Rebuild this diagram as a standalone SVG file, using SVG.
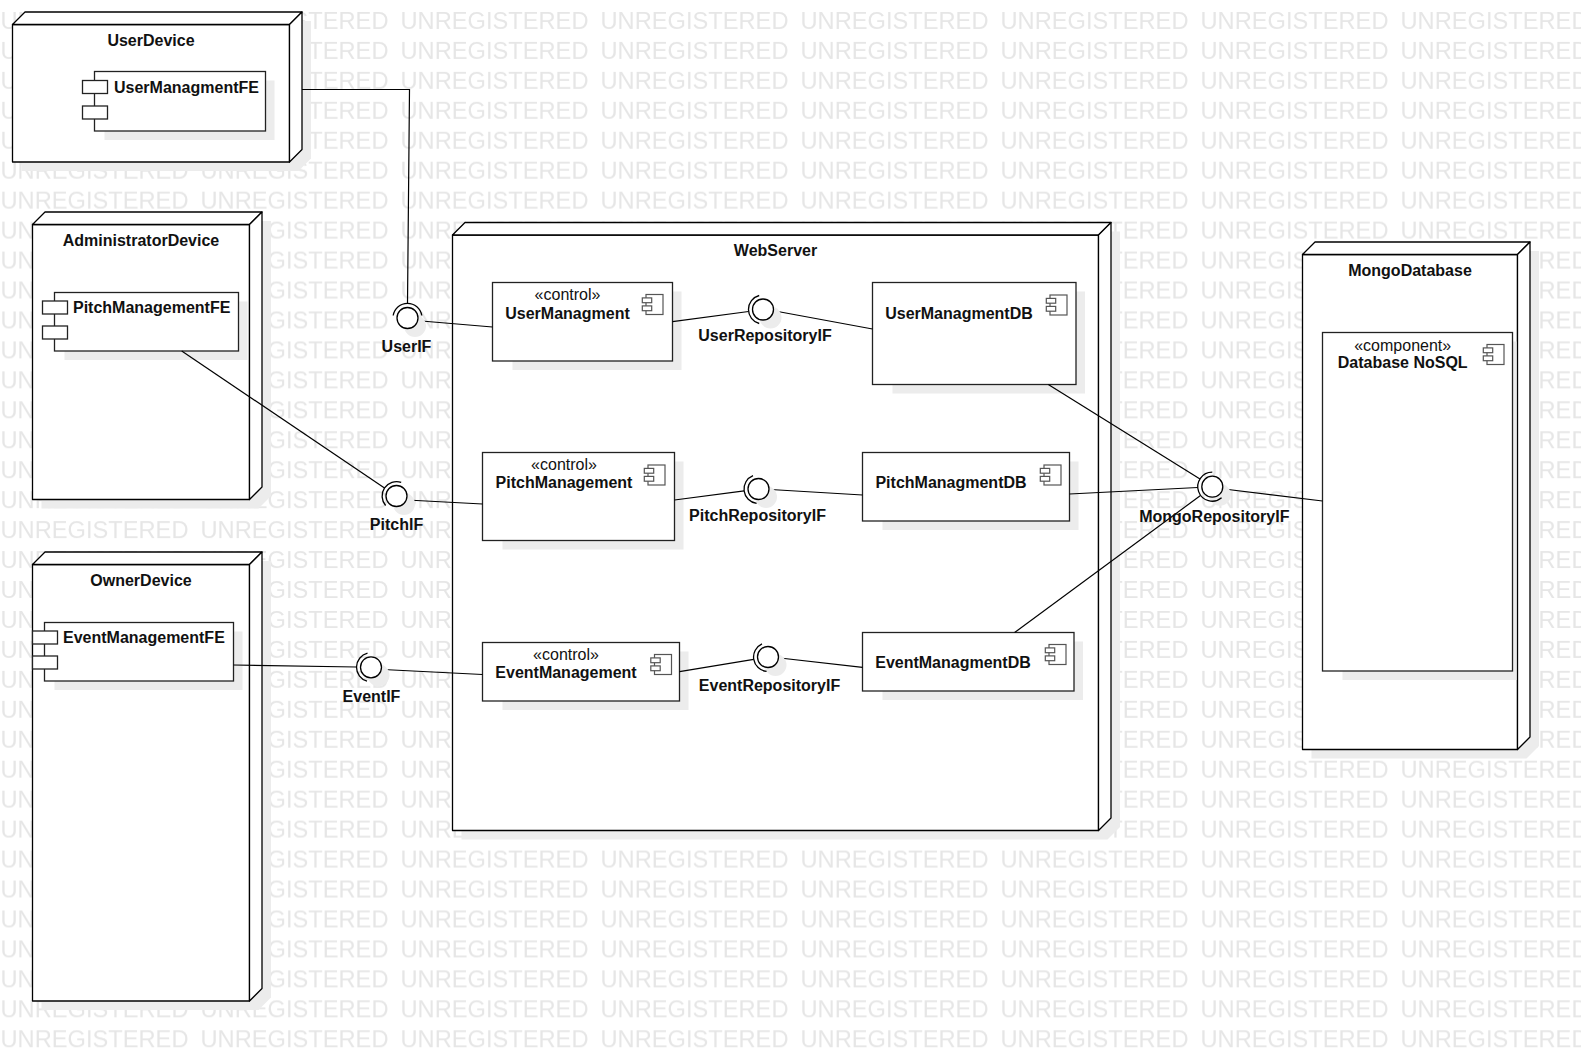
<svg xmlns="http://www.w3.org/2000/svg" width="1581" height="1052" viewBox="0 0 1581 1052">
<style>
.wm{font-family:"Liberation Sans",Arial,sans-serif;font-size:23px;fill:#e6e6e6}
.nb{fill:#fff;stroke:#000;stroke-width:1.3;stroke-linejoin:round}
.sh{fill:#ececec;stroke:none}
.cp{fill:#fff;stroke:#222;stroke-width:1.3}
.ic{fill:#fff;stroke:#555;stroke-width:1.2}
.t{font-family:"Liberation Sans",Arial,sans-serif;font-size:16px;fill:#111}
.b{font-weight:bold}
.m{text-anchor:middle}
.c{fill:none;stroke:#000;stroke-width:1.2}
.ball{fill:#fff;stroke:#000;stroke-width:1.3}
.sock{fill:none;stroke:#000;stroke-width:1.3}
</style>
<defs>
<g id="icon">
<rect class="ic" x="0" y="0" width="17" height="20"/>
<rect class="ic" x="-3.7" y="3.4" width="9.4" height="4.8"/>
<rect class="ic" x="-3.7" y="11.4" width="9.4" height="4.8"/>
</g>
<pattern id="wmp" patternUnits="userSpaceOnUse" x="0" y="0" width="200" height="29.95">
<text class="wm" x="0.5" y="29.2" textLength="188" lengthAdjust="spacingAndGlyphs">UNREGISTERED</text>
</pattern>
</defs>
<rect x="0" y="0" width="1581" height="1052" fill="#fff"/>
<g id="watermark">
<rect x="0" y="0" width="1581" height="1052" fill="url(#wmp)"/>
</g>

<g id="UserDevice">
<polygon class="sh" points="21.5,33.5 34,21 311,21 311,158.5 298.5,171 21.5,171"/>
<rect class="nb" x="12.5" y="24.5" width="277" height="137.5"/>
<polygon class="nb" points="12.5,24.5 25,12 302,12 289.5,24.5"/>
<polygon class="nb" points="289.5,24.5 302,12 302,149.5 289.5,162"/>
<text class="t b m" x="151" y="45.5">UserDevice</text>
<g id="UserManagmentFE">
<rect class="sh" x="104.5" y="80.5" width="170" height="59.5"/>
<rect class="cp" x="94.5" y="71.5" width="171" height="59.5"/>
<rect class="cp" x="82.5" y="80.5" width="25" height="13"/>
<rect class="cp" x="82.5" y="106" width="25" height="13"/>
<text class="t b" x="114" y="93">UserManagmentFE</text>
</g>
</g>

<g id="AdministratorDevice">
<polygon class="sh" points="41.5,233.5 54,221 271,221 271,496 258.5,508.5 41.5,508.5"/>
<rect class="nb" x="32.5" y="224.5" width="217" height="275"/>
<polygon class="nb" points="32.5,224.5 45,212 262,212 249.5,224.5"/>
<polygon class="nb" points="249.5,224.5 262,212 262,487 249.5,499.5"/>
<text class="t b m" x="141" y="245.5">AdministratorDevice</text>
<g id="PitchManagementFE">
<rect class="sh" x="64.5" y="301.5" width="183" height="58.5"/>
<rect class="cp" x="54.5" y="292.5" width="184" height="58.5"/>
<rect class="cp" x="42.5" y="301" width="25" height="13"/>
<rect class="cp" x="42.5" y="326" width="25" height="13"/>
<text class="t b" x="73" y="312.5">PitchManagementFE</text>
</g>
</g>

<g id="OwnerDevice">
<polygon class="sh" points="41.5,573.5 54,561 271,561 271,997.5 258.5,1010 41.5,1010"/>
<rect class="nb" x="32.5" y="564.5" width="217" height="436.5"/>
<polygon class="nb" points="32.5,564.5 45,552 262,552 249.5,564.5"/>
<polygon class="nb" points="249.5,564.5 262,552 262,988.5 249.5,1001"/>
<text class="t b m" x="141" y="585.5">OwnerDevice</text>
<g id="EventManagementFE">
<rect class="sh" x="54.5" y="631.5" width="188" height="58.5"/>
<rect class="cp" x="44.5" y="622.5" width="189" height="58.5"/>
<rect class="cp" x="32.5" y="631" width="25" height="13"/>
<rect class="cp" x="32.5" y="656" width="25" height="13"/>
<text class="t b" x="63" y="642.5">EventManagementFE</text>
</g>
</g>

<g id="WebServer">
<polygon class="sh" points="461.5,244 474,231.5 1120,231.5 1120,827 1107.5,839.5 461.5,839.5"/>
<rect class="nb" x="452.5" y="235" width="646" height="595.5"/>
<polygon class="nb" points="452.5,235 465,222.5 1111,222.5 1098.5,235"/>
<polygon class="nb" points="1098.5,235 1111,222.5 1111,818 1098.5,830.5"/>
<text class="t b m" x="775.5" y="255.5">WebServer</text>
<g id="UserManagment">
<rect class="sh" x="512.5" y="291.5" width="169" height="78.5"/>
<rect class="cp" x="492.5" y="282.5" width="180" height="78.5"/>
<use href="#icon" x="646" y="294.5"/>
<text class="t m" x="567.5" y="300">«control»</text>
<text class="t b m" x="567.5" y="318.5">UserManagment</text>
</g>
<g id="UserManagmentDB">
<rect class="sh" x="892.5" y="291.5" width="192.5" height="102"/>
<rect class="cp" x="872.5" y="282.5" width="203.5" height="102"/>
<use href="#icon" x="1050" y="295"/>
<text class="t b m" x="959" y="318.5">UserManagmentDB</text>
</g>
<g id="PitchManagement">
<rect class="sh" x="502.5" y="461.5" width="181" height="88"/>
<rect class="cp" x="482.5" y="452.5" width="192" height="88"/>
<use href="#icon" x="648" y="465"/>
<text class="t m" x="564" y="470">«control»</text>
<text class="t b m" x="564" y="487.7">PitchManagement</text>
</g>
<g id="PitchManagmentDB">
<rect class="sh" x="882.5" y="461.5" width="196" height="68.5"/>
<rect class="cp" x="862.5" y="452.5" width="207" height="68.5"/>
<use href="#icon" x="1044" y="465"/>
<text class="t b m" x="951" y="487.7">PitchManagmentDB</text>
</g>
<g id="EventManagement">
<rect class="sh" x="502.5" y="651.5" width="186" height="58.5"/>
<rect class="cp" x="482.5" y="642.5" width="197" height="58.5"/>
<use href="#icon" x="654.5" y="654.5"/>
<text class="t m" x="566" y="660">«control»</text>
<text class="t b m" x="566" y="678.3">EventManagement</text>
</g>
<g id="EventManagmentDB">
<rect class="sh" x="882.5" y="641.5" width="200.5" height="58.5"/>
<rect class="cp" x="862.5" y="632.5" width="211.5" height="58.5"/>
<use href="#icon" x="1049" y="644.5"/>
<text class="t b m" x="953" y="668.3">EventManagmentDB</text>
</g>
</g>

<g id="MongoDatabase">
<polygon class="sh" points="1311.5,263.5 1324,251 1539,251 1539,746 1526.5,758.5 1311.5,758.5"/>
<rect class="nb" x="1302.5" y="254.5" width="215" height="495"/>
<polygon class="nb" points="1302.5,254.5 1315,242 1530,242 1517.5,254.5"/>
<polygon class="nb" points="1517.5,254.5 1530,242 1530,737 1517.5,749.5"/>
<text class="t b m" x="1410" y="275.5">MongoDatabase</text>
<g id="DatabaseNoSQL">
<rect class="sh" x="1342.5" y="341.5" width="174" height="338.5"/>
<rect class="cp" x="1322.5" y="332.5" width="190" height="338.5"/>
<use href="#icon" x="1487" y="344.5"/>
<text class="t m" x="1402.7" y="350.7">«component»</text>
<text class="t b m" x="1402.7" y="368.3">Database NoSQL</text>
</g>
</g>

<g id="connectors">
<path class="c" d="M302,89.5 H409.5 L407.5,303.5"/>
<path class="c" d="M421.5,321 L492.5,327"/>
<path class="c" d="M181.7,351 L384.5,487.9"/>
<path class="c" d="M407,500 L482.5,504"/>
<path class="c" d="M233.5,665 L356.5,667"/>
<path class="c" d="M383,669.5 L482.5,674.5"/>
<path class="c" d="M672.5,321.7 L748.6,311.5"/>
<path class="c" d="M775,311 L872.5,329"/>
<path class="c" d="M674.5,500 L744.2,490.9"/>
<path class="c" d="M770.5,489.5 L862.5,495"/>
<path class="c" d="M679.5,671.7 L753.7,659.4"/>
<path class="c" d="M780,658 L862.5,667.3"/>
<path class="c" d="M1048.3,384.5 L1200,479"/>
<path class="c" d="M1069.5,494 L1197.8,487.5"/>
<path class="c" d="M1014.6,632.5 L1200.5,495.5"/>
<path class="c" d="M1224,489 L1322.5,501"/>
</g>

<g id="UserIF">
<circle class="sh" cx="415" cy="326" r="11"/>
<circle class="ball" cx="407.5" cy="318" r="10.5"/>
<path class="sock" d="M393.2,315.5 A14.5,14.5 0 0 1 421.8,315.5"/>
<text class="t b m" x="406.5" y="351.7">UserIF</text>
</g>
<g id="PitchIF">
<circle class="sh" cx="404" cy="504" r="11"/>
<circle class="ball" cx="396.5" cy="496" r="10.5"/>
<path class="sock" d="M401.2,482.3 A14.5,14.5 0 0 0 385.6,505.5"/>
<text class="t b m" x="396.5" y="530">PitchIF</text>
</g>
<g id="EventIF">
<circle class="sh" cx="378.5" cy="675.3" r="11"/>
<circle class="ball" cx="371" cy="667.3" r="10.5"/>
<path class="sock" d="M367.5,653.2 A14.5,14.5 0 0 0 367,681.2"/>
<text class="t b m" x="371.5" y="701.7">EventIF</text>
</g>
<g id="UserRepositoryIF">
<circle class="sh" cx="770.5" cy="317.5" r="11"/>
<circle class="ball" cx="763" cy="309.5" r="10.5"/>
<path class="sock" d="M759.2,295.5 A14.5,14.5 0 0 0 759.2,323.5"/>
<text class="t b m" x="765" y="341">UserRepositoryIF</text>
</g>
<g id="PitchRepositoryIF">
<circle class="sh" cx="766" cy="497" r="11"/>
<circle class="ball" cx="758.5" cy="489" r="10.5"/>
<path class="sock" d="M753,475.6 A14.5,14.5 0 0 0 756.6,503.4"/>
<text class="t b m" x="757.5" y="521">PitchRepositoryIF</text>
</g>
<g id="EventRepositoryIF">
<circle class="sh" cx="775.5" cy="665" r="11"/>
<circle class="ball" cx="768" cy="657" r="10.5"/>
<path class="sock" d="M762,643.8 A14.5,14.5 0 0 0 766.6,671.4"/>
<text class="t b m" x="769.5" y="691">EventRepositoryIF</text>
</g>
<g id="MongoRepositoryIF">
<circle class="sh" cx="1219.8" cy="494.7" r="11"/>
<circle class="ball" cx="1212.3" cy="486.7" r="10.5"/>
<path class="sock" d="M1221.6,497.8 A14.5,14.5 0 1 1 1212.3,472.2"/>
<text class="t b m" x="1214.3" y="521.7">MongoRepositoryIF</text>
</g>
</svg>
